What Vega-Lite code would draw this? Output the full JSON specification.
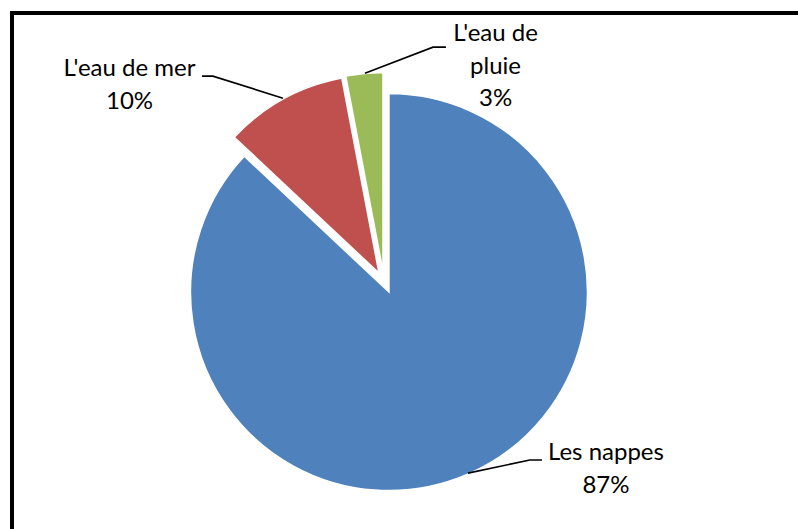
{
  "$schema": "https://vega.github.io/schema/vega-lite/v6.json",
  "width": 800,
  "height": 530,
  "autosize": {"type": "none"},
  "padding": {"left": 12, "top": 13, "right": 0, "bottom": 0},
  "background": "white",
  "config": {"view": {"stroke": "black", "strokeWidth": 4}},
  "datasets": {
    "slices": [
      {"source": "Les nappes", "percent": 87},
      {"source": "L'eau de mer", "percent": 10},
      {"source": "L'eau de pluie", "percent": 3}
    ],
    "labels": [
      {"label": "L'eau de mer\n10%", "lx": -130.7, "ly": 108.8},
      {"label": "L'eau de\npluie\n3%", "lx": 53.7, "ly": 126.4},
      {"label": "Les nappes\n87%", "lx": 109.3, "ly": -84.6}
    ],
    "leaders": [
      {"g": "mer", "i": 1, "lx": -94.2, "ly": 108.8},
      {"g": "mer", "i": 2, "lx": -88.7, "ly": 108.8},
      {"g": "mer", "i": 3, "lx": -53.4, "ly": 97.7},
      {"g": "pluie", "i": 1, "lx": 28.7, "ly": 123.4},
      {"g": "pluie", "i": 2, "lx": 22.2, "ly": 123.4},
      {"g": "pluie", "i": 3, "lx": -12.1, "ly": 110.3},
      {"g": "nappes", "i": 1, "lx": 77.1, "ly": -84.6},
      {"g": "nappes", "i": 2, "lx": 71.0, "ly": -84.6},
      {"g": "nappes", "i": 3, "lx": 39.8, "ly": -91.2}
    ]
  },
  "layer": [
    {
      "data": {"name": "slices"},
      "transform": [
        {"stack": "percent", "groupby": [], "as": ["v0", "v1"], "sort": [{"field": "percent", "order": "descending"}]},
        {"filter": "datum.source === 'Les nappes'"}
      ],
      "mark": {"type": "arc", "outerRadius": 198.5, "stroke": "white", "strokeWidth": 1.5},
      "encoding": {
        "x": {"datum": 0, "type": "quantitative", "scale": {"domain": [-189.9, 213.1]}, "axis": null},
        "y": {"datum": 0, "type": "quantitative", "scale": {"domain": [-126.4, 140.6]}, "axis": null},
        "theta": {"field": "v0", "type": "quantitative", "scale": {"domain": [0, 100]}},
        "theta2": {"field": "v1"},
        "color": {"field": "source", "type": "nominal", "scale": {"domain": ["Les nappes", "L'eau de mer", "L'eau de pluie"], "range": ["#4F81BD", "#C0504D", "#9BBB59"]}, "legend": null}
      }
    },
    {
      "data": {"name": "slices"},
      "transform": [
        {"stack": "percent", "groupby": [], "as": ["v0", "v1"], "sort": [{"field": "percent", "order": "descending"}]},
        {"filter": "datum.source === \"L'eau de mer\""}
      ],
      "mark": {"type": "arc", "outerRadius": 198.5, "stroke": "white", "strokeWidth": 1.5, "xOffset": -10, "yOffset": -19},
      "encoding": {
        "x": {"datum": 0, "type": "quantitative", "scale": {"domain": [-189.9, 213.1]}, "axis": null},
        "y": {"datum": 0, "type": "quantitative", "scale": {"domain": [-126.4, 140.6]}, "axis": null},
        "theta": {"field": "v0", "type": "quantitative", "scale": {"domain": [0, 100]}},
        "theta2": {"field": "v1"},
        "color": {"field": "source", "type": "nominal", "scale": {"domain": ["Les nappes", "L'eau de mer", "L'eau de pluie"], "range": ["#4F81BD", "#C0504D", "#9BBB59"]}, "legend": null}
      }
    },
    {
      "data": {"name": "slices"},
      "transform": [
        {"stack": "percent", "groupby": [], "as": ["v0", "v1"], "sort": [{"field": "percent", "order": "descending"}]},
        {"filter": "datum.source === \"L'eau de pluie\""}
      ],
      "mark": {"type": "arc", "outerRadius": 198.5, "stroke": "white", "strokeWidth": 1.5, "xOffset": -6, "yOffset": -21},
      "encoding": {
        "x": {"datum": 0, "type": "quantitative", "scale": {"domain": [-189.9, 213.1]}, "axis": null},
        "y": {"datum": 0, "type": "quantitative", "scale": {"domain": [-126.4, 140.6]}, "axis": null},
        "theta": {"field": "v0", "type": "quantitative", "scale": {"domain": [0, 100]}},
        "theta2": {"field": "v1"},
        "color": {"field": "source", "type": "nominal", "scale": {"domain": ["Les nappes", "L'eau de mer", "L'eau de pluie"], "range": ["#4F81BD", "#C0504D", "#9BBB59"]}, "legend": null}
      }
    },
    {
      "data": {"name": "leaders"},
      "mark": {"type": "line", "stroke": "black", "strokeWidth": 1.6},
      "encoding": {
        "x": {"field": "lx", "type": "quantitative", "scale": {"domain": [-189.9, 213.1]}, "axis": null},
        "y": {"field": "ly", "type": "quantitative", "scale": {"domain": [-126.4, 140.6]}, "axis": null},
        "detail": {"field": "g"},
        "order": {"field": "i", "type": "quantitative"}
      }
    },
    {
      "data": {"name": "labels"},
      "mark": {"type": "text", "align": "center", "baseline": "alphabetic", "font": "Lato", "fontSize": 24, "lineBreak": "\n", "lineHeight": 32.5, "color": "black"},
      "encoding": {
        "x": {"field": "lx", "type": "quantitative", "scale": {"domain": [-189.9, 213.1]}, "axis": null},
        "y": {"field": "ly", "type": "quantitative", "scale": {"domain": [-126.4, 140.6]}, "axis": null},
        "text": {"field": "label"}
      }
    }
  ]
}
